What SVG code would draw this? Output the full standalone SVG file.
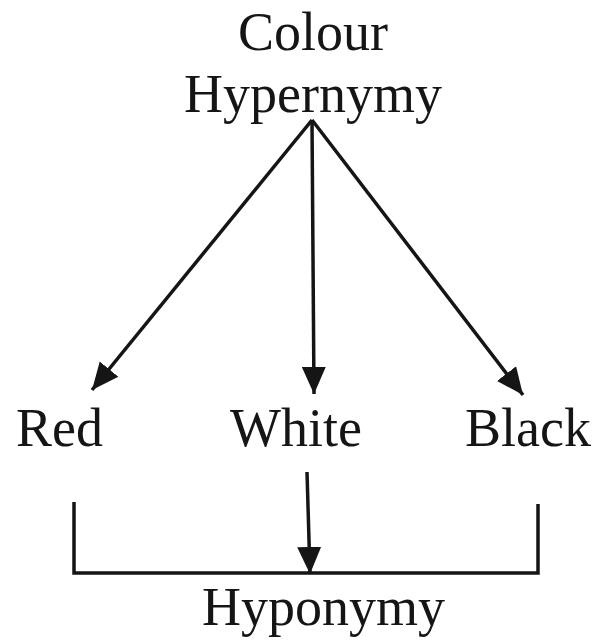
<svg xmlns="http://www.w3.org/2000/svg" width="599" height="644" viewBox="0 0 599 644">
<style>
text{font-family:"Liberation Serif","Times New Roman",serif;font-size:54px;fill:#151515}
.c{stroke:#151515;stroke-width:3.5;fill:none}
</style>
<defs>
<marker id="ah" markerUnits="userSpaceOnUse" markerWidth="28" markerHeight="26" viewBox="0 0 28 26" refX="27" refY="13" orient="auto">
<path d="M0,1 L27,13 L0,25 Z" fill="#151515"/>
</marker>
</defs>
<rect width="599" height="644" fill="#fff"/>
<g id="hypernymy"><text x="313" y="50" text-anchor="middle">Colour</text><text x="313" y="112" text-anchor="middle">Hypernymy</text></g>
<g id="red"><text x="16" y="446">Red</text></g>
<g id="white"><text x="230" y="446">White</text></g>
<g id="black"><text x="465" y="446">Black</text></g>
<g id="hyponymy"><text x="202" y="625">Hyponymy</text></g>
<g id="connectors">
<line class="c" x1="312" y1="120" x2="92" y2="390" marker-end="url(#ah)"/>
<line class="c" x1="312" y1="120" x2="314" y2="394" marker-end="url(#ah)"/>
<line class="c" x1="312" y1="120" x2="523" y2="395" marker-end="url(#ah)"/>
<polyline class="c" points="74,502 74,573 538,573 538,504"/>
<line class="c" x1="307" y1="472" x2="310" y2="574" marker-end="url(#ah)"/>
</g>
</svg>
